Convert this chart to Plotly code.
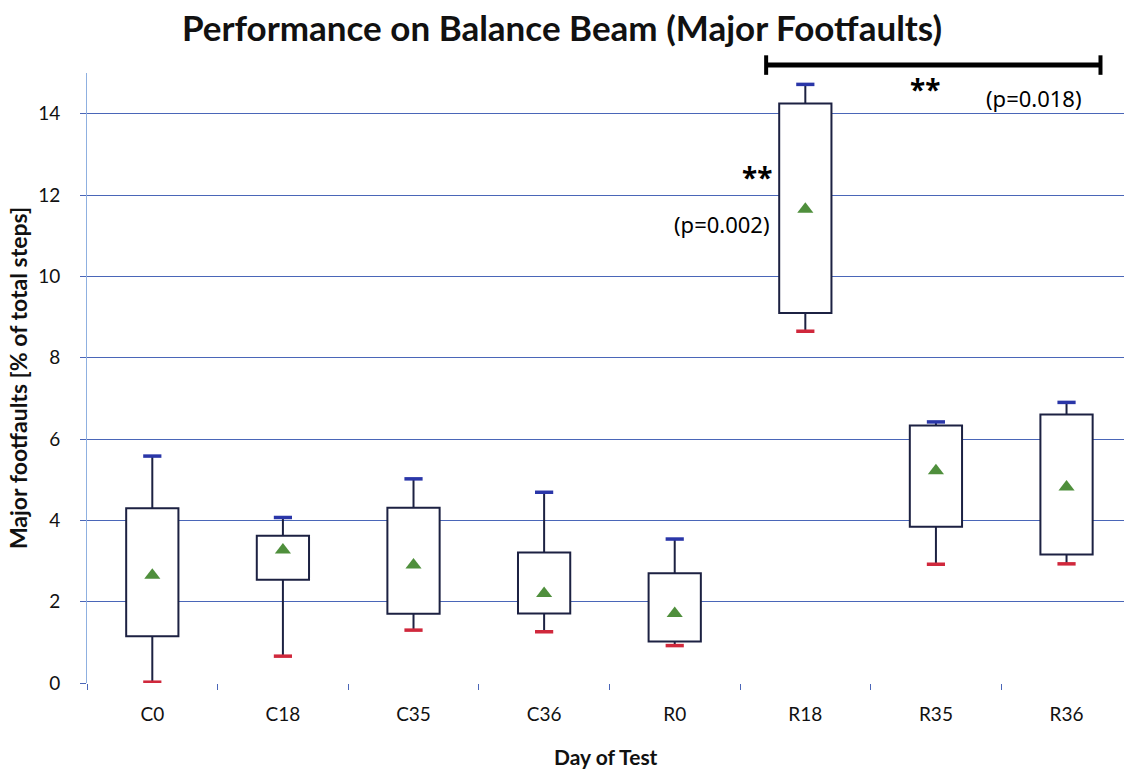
import plotly.graph_objects as go

# Day-of-test groups and the box statistics (% of total steps)
days = ["C0", "C18", "C35", "C36", "R0", "R18", "R35", "R36"]
q1 = [1.15, 2.54, 1.70, 1.71, 1.02, 9.10, 3.84, 3.16]
q3 = [4.30, 3.62, 4.31, 3.21, 2.70, 14.25, 6.33, 6.60]
minimum = [0.02, 0.66, 1.30, 1.26, 0.92, 8.65, 2.92, 2.93]
maximum = [5.58, 4.07, 5.02, 4.69, 3.54, 14.72, 6.42, 6.90]
mean = [2.65, 3.27, 2.90, 2.20, 1.71, 11.65, 5.22, 4.82]

y_ticks = [0, 2, 4, 6, 8, 10, 12, 14]

LABEL_FONT = "Lato"
NOTE_FONT = "Noto Sans"
GRID = "#4a66b8"
BOX_LINE = "#1c2142"

fig = go.Figure()

# Whiskers: min -> Q1 and Q3 -> max
wx, wy = [], []
for d, lo, a, b, hi in zip(days, minimum, q1, q3, maximum):
    wx += [d, d, None, d, d, None]
    wy += [lo, a, None, b, hi, None]
fig.add_trace(go.Scatter(
    x=wx, y=wy, mode="lines",
    line=dict(color=BOX_LINE, width=2),
    showlegend=False, hoverinfo="skip",
))

# Boxes span Q1..Q3 (no median line)
fig.add_trace(go.Bar(
    x=days,
    base=q1,
    y=[b - a for a, b in zip(q1, q3)],
    width=0.40,
    marker=dict(color="white", line=dict(color=BOX_LINE, width=2)),
    showlegend=False, hoverinfo="skip",
))

# Coloured whisker caps: blue on the maximum, red on the minimum
fig.add_trace(go.Scatter(
    x=days, y=maximum, mode="markers",
    marker=dict(symbol="line-ew", size=13, line=dict(color="#2a36a8", width=3.5)),
    showlegend=False, hoverinfo="skip",
))
fig.add_trace(go.Scatter(
    x=days, y=minimum, mode="markers",
    marker=dict(symbol="line-ew", size=13, line=dict(color="#d0283c", width=3.5)),
    showlegend=False, hoverinfo="skip",
))

# Group means
fig.add_trace(go.Scatter(
    x=days, y=mean, mode="markers",
    marker=dict(symbol="triangle-up", size=14, color="#4f8f3c"),
    showlegend=False, hoverinfo="skip",
))

# Significance bracket spanning R18..R36
br_y = 1.013
fig.add_shape(type="line", xref="x", yref="paper", x0=4.70, x1=7.26, y0=br_y, y1=br_y,
              line=dict(color="black", width=5))
for xe in (4.70, 7.26):
    fig.add_shape(type="line", xref="x", yref="paper", x0=xe, x1=xe, y0=br_y - 0.016, y1=br_y + 0.016,
                  line=dict(color="black", width=4))

fig.add_annotation(x=5.92, y=14.6, xref="x", yref="y", text="<b>**</b>", showarrow=False,
                   font=dict(family=NOTE_FONT, size=28, color="black"))
fig.add_annotation(x=6.75, y=14.38, xref="x", yref="y", text="(p=0.018)", showarrow=False,
                   font=dict(family=NOTE_FONT, size=22, color="black"))
fig.add_annotation(x=4.63, y=12.45, xref="x", yref="y", text="<b>**</b>", showarrow=False,
                   font=dict(family=NOTE_FONT, size=28, color="black"))
fig.add_annotation(x=4.365, y=11.28, xref="x", yref="y", text="(p=0.002)", showarrow=False,
                   font=dict(family=NOTE_FONT, size=22, color="black"))

# x-axis title, centred under the category band
fig.add_annotation(x=0.5, y=-0.1213, xref="paper", yref="paper", yanchor="middle",
                   text="<b>Day of Test</b>",
                   showarrow=False, font=dict(family=LABEL_FONT, size=21, color="#111"))

fig.update_layout(
    width=1124,
    height=770,
    margin=dict(l=87, r=0, t=73, b=87),
    paper_bgcolor="white",
    plot_bgcolor="white",
    title=dict(
        text="<b>Performance on Balance Beam (Major Footfaults)</b>",
        x=0.5, xanchor="center", y=0.963, yanchor="middle",
        font=dict(family=LABEL_FONT, size=35, color="#111"),
    ),
    xaxis=dict(
        range=[-0.5, 7.44],
        showgrid=False,
        showline=False,
        ticks="outside",
        tickson="boundaries",
        ticklen=6,
        tickcolor=GRID,
        ticklabelstandoff=18,
        tickfont=dict(family=LABEL_FONT, size=19, color="#111"),
        zeroline=False,
    ),
    yaxis=dict(
        range=[0, 15],
        tickvals=y_ticks,
        showgrid=True,
        gridcolor=GRID,
        gridwidth=1.2,
        showline=True,
        linecolor="#8fb0e0",
        linewidth=1,
        ticks="outside",
        ticklen=6,
        tickcolor=GRID,
        ticklabelstandoff=16,
        tickfont=dict(family=LABEL_FONT, size=19, color="#111"),
        zeroline=False,
        title=dict(text="<b>Major footfaults [% of total steps]</b>",
                   font=dict(family=LABEL_FONT, size=23, color="#111"), standoff=4),
    ),
)

fig.write_html("out.html")
